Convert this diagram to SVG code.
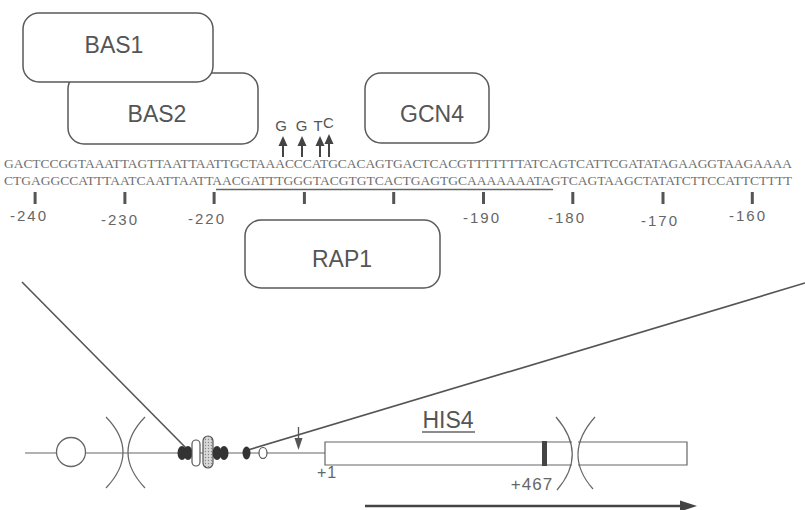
<svg xmlns="http://www.w3.org/2000/svg" width="805" height="510" viewBox="0 0 805 510">
<defs>
<style>
.box{fill:#fff;stroke:#5a5a5a;stroke-width:1.5}
.lbl{font-family:"Liberation Sans",Arial,sans-serif;font-size:23px;fill:#555;text-anchor:middle}
.seq{font-family:"Liberation Serif","Times New Roman",serif;font-size:13.5px;fill:#707070}
.num{font-family:"Liberation Sans",Arial,sans-serif;font-size:15px;fill:#666;text-anchor:middle;letter-spacing:2px}
.mut{font-family:"Liberation Sans",Arial,sans-serif;font-size:15px;fill:#555;text-anchor:middle}
.tick{fill:#555}
.ln{stroke:#555;stroke-width:1.6;fill:none}
.thin{stroke:#666;stroke-width:1.2;fill:none}
.bead{fill:#333}
</style>
<pattern id="dots" width="3" height="3" patternUnits="userSpaceOnUse">
<rect width="3" height="3" fill="#d8d8d8"/>
<circle cx="1.5" cy="1.5" r="0.7" fill="#888"/>
</pattern>
</defs>
<rect width="805" height="510" fill="#fff"/>

<g id="BAS2"><rect class="box" x="68" y="73" width="190" height="71" rx="16"/><text class="lbl" x="157" y="122">BAS2</text></g>
<g id="BAS1"><rect class="box" x="23" y="13" width="190" height="69" rx="16"/><text class="lbl" x="114" y="53">BAS1</text></g>
<g id="GCN4"><rect class="box" x="365" y="73" width="124" height="70" rx="16"/><text class="lbl" x="432" y="122">GCN4</text></g>
<g id="RAP1"><rect class="box" x="245" y="220" width="195" height="68" rx="16"/><text class="lbl" x="342" y="267">RAP1</text></g>

<g id="mutations">
<text class="mut" x="281" y="131">G</text>
<text class="mut" x="301.5" y="131">G</text>
<text class="mut" x="318" y="131">T</text>
<text class="mut" x="328.5" y="128">C</text>
<g fill="#444">
<polygon points="283,136 278.5,146 287.5,146"/><rect x="282" y="145" width="2" height="12"/>
<polygon points="302,136 297.5,146 306.5,146"/><rect x="301" y="145" width="2" height="12"/>
<polygon points="320,136 315.5,146 324.5,146"/><rect x="319" y="145" width="2" height="12"/>
<polygon points="329,134 324.5,144 333.5,144"/><rect x="328" y="143" width="2" height="14"/>
</g>
</g>

<g id="sequence">
<text class="seq" x="4" y="168" textLength="788" lengthAdjust="spacingAndGlyphs">GACTCCGGTAAATTAGTTAATTAATTGCTAAACCCATGCACAGTGACTCACGTTTTTTTATCAGTCATTCGATATAGAAGGTAAGAAAA</text>
<text class="seq" x="4" y="185" textLength="788" lengthAdjust="spacingAndGlyphs">CTGAGGCCATTTAATCAATTAATTAACGATTTGGGTACGTGTCACTGAGTGCAAAAAAATAGTCAGTAAGCTATATCTTCCATTCTTTT</text>
<line x1="216" y1="189.5" x2="553" y2="189.5" stroke="#666" stroke-width="1.5"/>
<g class="tick">
<rect x="33.6" y="192" width="3" height="12"/>
<rect x="123.4" y="192" width="3" height="12"/>
<rect x="212.6" y="192" width="3" height="12"/>
<rect x="302.9" y="192" width="3" height="12"/>
<rect x="392.2" y="192" width="3" height="12"/>
<rect x="482" y="192" width="3" height="12"/>
<rect x="571.3" y="192" width="3" height="12"/>
<rect x="661.5" y="192" width="3" height="12"/>
<rect x="750.8" y="192" width="3" height="12"/>
</g>
<text class="num" x="29" y="221">-240</text>
<text class="num" x="120" y="225">-230</text>
<text class="num" x="207" y="224">-220</text>
<text class="num" x="482" y="223">-190</text>
<text class="num" x="567" y="223">-180</text>
<text class="num" x="660" y="226">-170</text>
<text class="num" x="748" y="221">-160</text>
</g>

<g id="connectors">
<line class="ln" x1="22" y1="282" x2="188" y2="450"/>
<line class="ln" x1="248" y1="450" x2="805" y2="283"/>
</g>

<g id="chromosome">
<line class="thin" x1="25" y1="453" x2="325" y2="453"/>
<circle cx="71" cy="452" r="14.5" fill="#fff" stroke="#666" stroke-width="1.3"/>
<path class="thin" d="M106,417 Q140,452 106,488"/>
<path class="thin" d="M145,417 Q111,452 145,488"/>
<ellipse class="bead" cx="182" cy="453" rx="4.5" ry="7"/>
<ellipse class="bead" cx="188" cy="453" rx="4.5" ry="7"/>
<rect x="192" y="440" width="8" height="26" rx="4" fill="#fff" stroke="#555" stroke-width="1.2"/>
<rect x="203" y="436" width="10" height="32" rx="5" fill="url(#dots)" stroke="#555" stroke-width="1.2"/>
<ellipse class="bead" cx="217" cy="453" rx="4.5" ry="7"/>
<ellipse class="bead" cx="224" cy="453" rx="4.5" ry="7"/>
<ellipse class="bead" cx="246.5" cy="453" rx="4" ry="6.5"/>
<ellipse cx="263" cy="453" rx="4" ry="5.5" fill="#fff" stroke="#555" stroke-width="1.2"/>
<line x1="298.5" y1="427" x2="298.5" y2="442" stroke="#555" stroke-width="1.3"/>
<polygon points="294.5,438 302.5,438 298.5,450" fill="#555"/>
</g>

<g id="HIS4">
<path class="thin" d="M572,442 H325 V465 H572"/>
<path class="thin" d="M578,442 H687 V465 H578"/>
<rect x="542" y="441" width="5" height="25" fill="#444"/>
<path class="thin" d="M556,417 Q588,454 557,490"/>
<path class="thin" d="M595,417 Q562,454 593,489"/>
<text class="lbl" x="448" y="428">HIS4</text>
<line x1="422" y1="432" x2="475" y2="432" stroke="#666" stroke-width="1.3"/>
<text x="327" y="478" style="font-family:'Liberation Sans',Arial,sans-serif;font-size:16px;fill:#666;text-anchor:middle;letter-spacing:1px">+1</text>
<text x="532" y="490" style="font-family:'Liberation Sans',Arial,sans-serif;font-size:17px;fill:#666;text-anchor:middle;letter-spacing:1px">+467</text>
</g>

<g id="transcript">
<line x1="365" y1="506" x2="682" y2="506" stroke="#444" stroke-width="2.5"/>
<polygon points="680,500.5 697,506 680,511.5" fill="#444"/>
</g>
</svg>
